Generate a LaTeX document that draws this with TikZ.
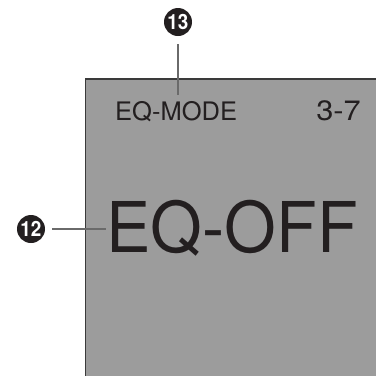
\documentclass[tikz,border=0pt]{standalone}
\usepackage{fontspec}
\setmainfont{TeX Gyre Heros}
\usepackage{graphicx}
\usepackage{xcolor}

\definecolor{lcdgray}{HTML}{9C9C9C}
\definecolor{ink}{HTML}{231F20}
\definecolor{leadgray}{HTML}{6A6A6A}
\definecolor{rimgray}{HTML}{3A3A3A}

\begin{document}
\begin{tikzpicture}[x=1pt, y=-1pt,
    badge/.style={circle, fill=ink, text=white, inner sep=0pt, minimum size=28pt,
        font=\fontsize{21}{21}\selectfont\bfseries},
    lead/.style={leadgray, line width=2.6pt},
    lcdtext/.style={text=ink, inner sep=0pt}]
    \useasboundingbox (0,0) rectangle (376,376);

    % Display panel
    \fill[lcdgray] (85.5,79) rectangle (376,376);
    \draw[rimgray, line width=1.6pt] (85.5,376) -- (85.5,79) -- (376,79);

    % Display texts
    \node[lcdtext, anchor=base west, font=\fontsize{25.5}{25.5}\selectfont] (mode) at (115,120.7) {EQ-MODE};
    \node[lcdtext, anchor=base east, font=\fontsize{28}{28}\selectfont] (page) at (361,120.7) {\scalebox{1.1}[1]{3-7}};
    \node[lcdtext, anchor=base west, font=\fontsize{70}{70}\selectfont] (eqoff) at (106.4,252.7) {\scalebox{0.95}[1]{EQ-OFF}};

    % Callouts
    \node[badge] (c13) at (178,22) {\scalebox{0.9}[1]{13}};
    \node[badge] (c12) at (31,229) {\scalebox{0.9}[1]{12}};
    \draw[lead, shorten <=8pt, shorten >=6pt] (c13) -- (c13 |- mode.north);
    \draw[lead, shorten <=7pt] (c12) -- (c12 -| eqoff.west);
\end{tikzpicture}
\end{document}
